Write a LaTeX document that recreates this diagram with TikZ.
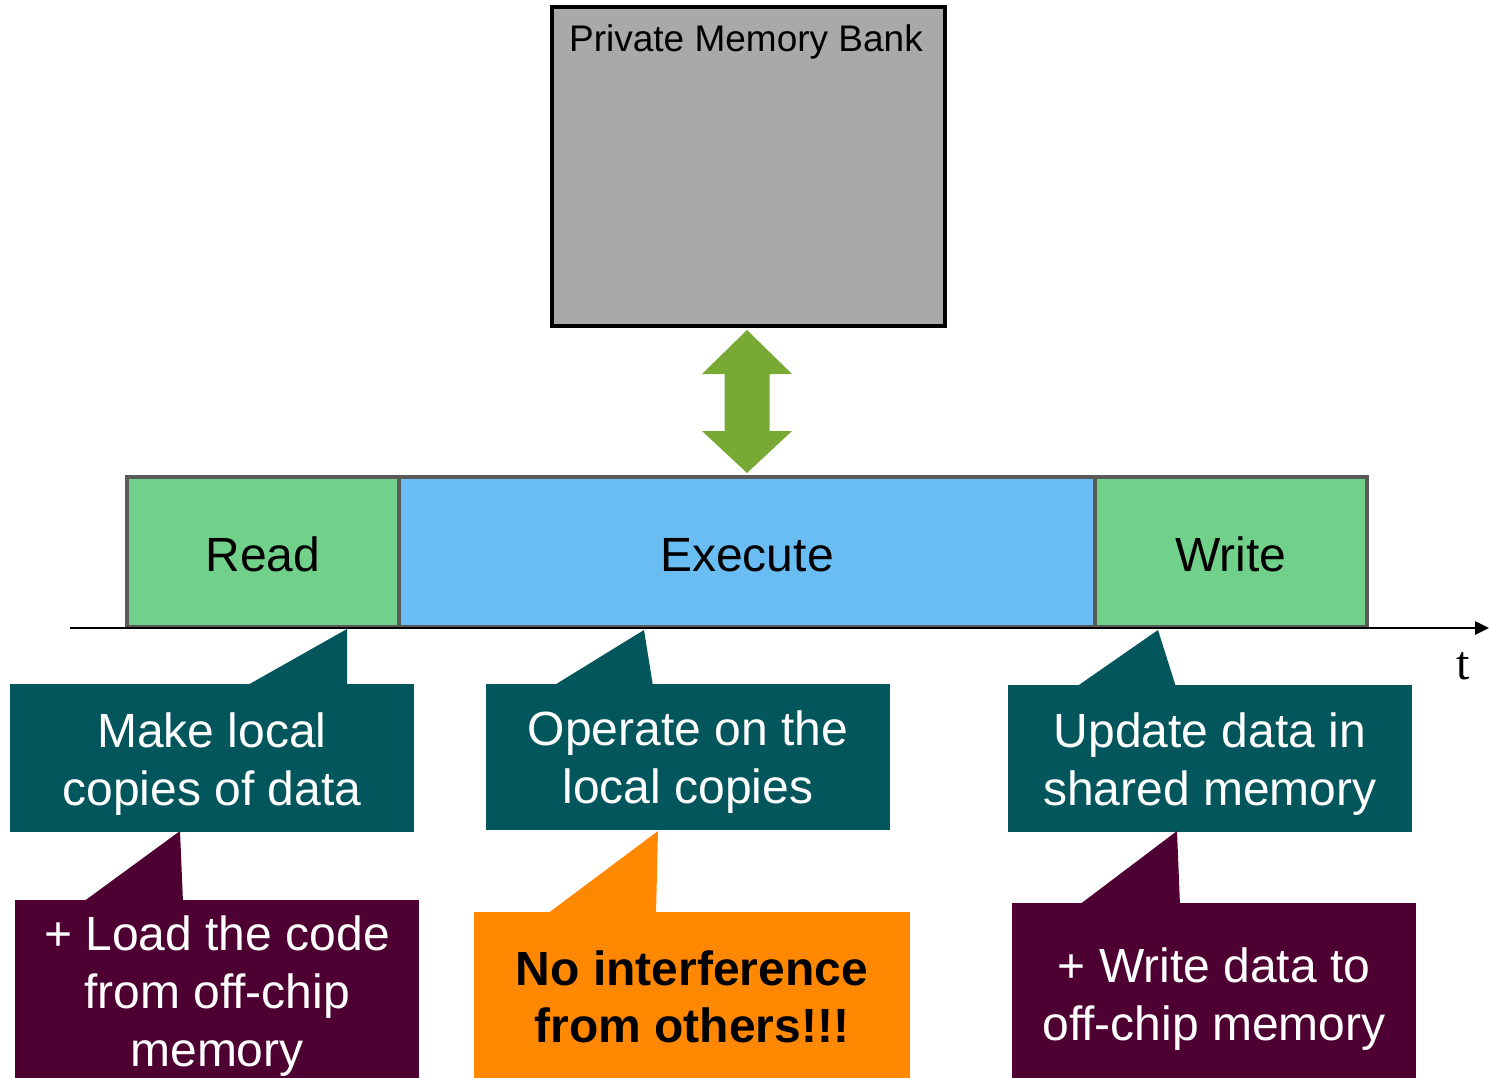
\documentclass[tikz,border=0pt]{standalone}
\usepackage{fontspec}
\setmainfont{Liberation Sans}
\newfontfamily\axisfont{Liberation Serif}
\usetikzlibrary{calc,arrows.meta}
\definecolor{memgray}{HTML}{A9A9A9}
\definecolor{phasegreen}{HTML}{71D08A}
\definecolor{phaseblue}{HTML}{69BDF2}
\definecolor{barframe}{HTML}{5A5A5A}
\definecolor{linkgreen}{HTML}{78A935}
\definecolor{noteteal}{HTML}{03565C}
\definecolor{notemaroon}{HTML}{4E0033}
\definecolor{noteorange}{HTML}{FF8800}
\begin{document}
\begin{tikzpicture}[x=1pt,y=-1pt,
  phase/.style={draw=barframe,line width=4pt,inner sep=0pt,minimum height=150pt},
  notebox/.style={inner sep=0pt,draw=none},
  notetext/.style={anchor=base,align=center,inner sep=0pt,
    font=\fontsize{48}{58}\selectfont},
  bigtext/.style={font=\fontsize{48}{58}\selectfont}]
\useasboundingbox (0,0) rectangle (1489,1078);

% callout boxes below the time line
\node[notebox,fill=noteteal,minimum width=404pt,minimum height=148pt] (c1) at (212,758) {};
\node[notebox,fill=noteteal,minimum width=404pt,minimum height=146pt] (c2) at (688,757) {};
\node[notebox,fill=noteteal,minimum width=404pt,minimum height=147pt] (c3) at (1210,758.5) {};
\node[notebox,fill=notemaroon,minimum width=404pt,minimum height=178pt] (c4) at (217,989) {};
\node[notebox,fill=noteorange,minimum width=436pt,minimum height=166pt] (c5) at (692,995) {};
\node[notebox,fill=notemaroon,minimum width=404pt,minimum height=175pt] (c6) at (1214,990.5) {};

% tails of the callouts
\coordinate (tip1) at (347,629);
\coordinate (tip2) at (644,630);
\coordinate (tip3) at (1158,630);
\coordinate (tip4) at (180,831);
\coordinate (tip5) at (658,831);
\coordinate (tip6) at (1177,831);
\fill[noteteal] (246,686) -- (tip1) -- (347,686) -- cycle;
\fill[noteteal] (553,686) -- (tip2) -- (653,686) -- cycle;
\fill[noteteal] (1076,687) -- (tip3) -- (1176,687) -- cycle;
\fill[notemaroon] (83,902) -- (tip4) -- (183,902) -- cycle;
\fill[noteorange] (547,914) -- (tip5) -- (656,914) -- cycle;
\fill[notemaroon] (1079,905) -- (tip6) -- (1180,905) -- cycle;

% callout texts (anchored on the baseline of their last line)
\node[notetext,text=white] (n1) at (212,805) {Make local\\copies of data};
\node[notetext,text=white] (n2) at (688,803) {Operate on the\\local copies};
\node[notetext,text=white] (n3) at (1210,805) {Update data in\\shared memory};
\node[notetext,text=white] (n4) at (217,1066) {+ Load the code\\from off-chip\\memory};
\node[notetext,text=black,font=\fontsize{48}{57}\selectfont\bfseries] (n5) at (692,1042) {No interference\\from others!!!};
\node[notetext,text=white] (n6) at (1214,1040) {+ Write data to\\off-chip memory};

% private memory bank
\node[draw=black,line width=4pt,fill=memgray,inner sep=0pt,
  minimum width=393pt,minimum height=319pt] (mem) at (748.5,166.5) {};
\node[anchor=base,inner sep=0pt,font=\fontsize{37}{44}\selectfont] (memlabel) at (746,51.5) {Private Memory Bank};

% phases on the time line
\node[phase,fill=phasegreen,minimum width=272.5pt] (read) at (262.75,552) {};
\node[phase,fill=phaseblue,minimum width=696pt] (exec) at (747,552) {};
\node[phase,fill=phasegreen,minimum width=272pt] (write) at (1231,552) {};
\node[anchor=base,inner sep=0pt,bigtext] (readlabel) at (263,571) {Read};
\node[anchor=base,inner sep=0pt,bigtext] (execlabel) at (747,571) {Execute};
\node[anchor=base,inner sep=0pt,bigtext] (writelabel) at (1231,571) {Write};

% time axis
\coordinate (axstart) at (70,628);
\coordinate (axend) at (1489,628);
\draw[line width=2.5pt,-{Triangle[length=14pt,width=13pt]}] (axstart) -- (axend);
\node[anchor=base,inner sep=0pt,font=\axisfont\fontsize{48}{50}\selectfont] (tlabel) at (1463,679) {t};

% two-headed link between memory bank and execute phase
\fill[linkgreen]
  ($(mem.south)+(-1.5,2)$) -- ($(mem.south)+(43.5,46)$) -- ($(mem.south)+(21,46)$)
  -- ($(exec.north)+(22.5,-44)$) -- ($(exec.north)+(45,-44)$) -- ($(exec.north)+(0,-2)$)
  -- ($(exec.north)+(-45,-44)$) -- ($(exec.north)+(-22.5,-44)$)
  -- ($(mem.south)+(-24,46)$) -- ($(mem.south)+(-46.5,46)$) -- cycle;
\end{tikzpicture}
\end{document}
